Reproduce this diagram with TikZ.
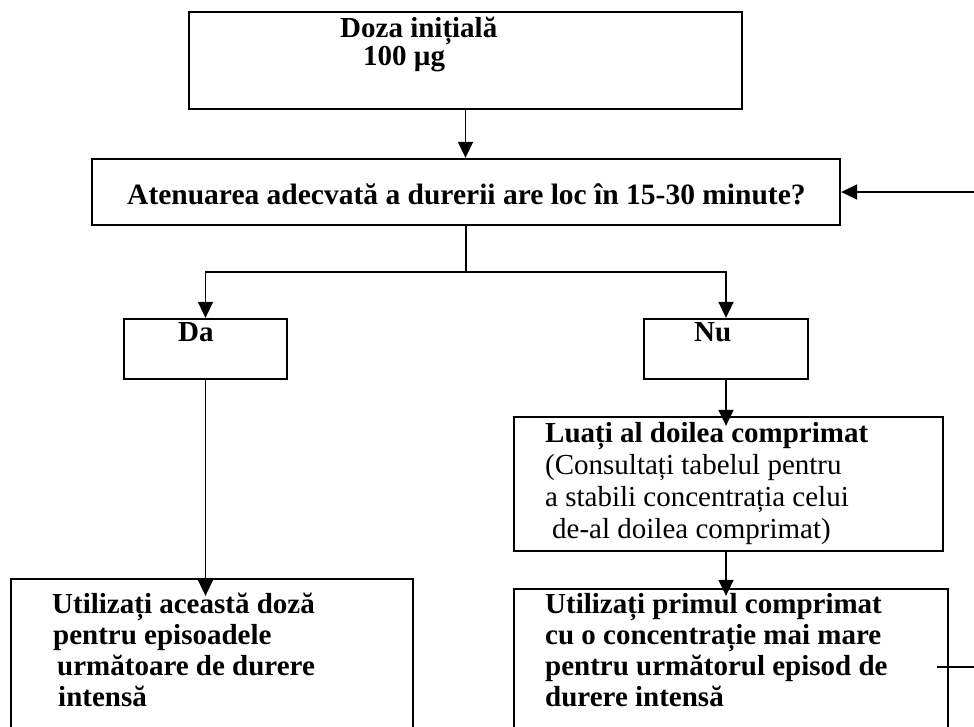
\documentclass[tikz,border=0pt]{standalone}
\usepackage{fontspec}
\setmainfont{Liberation Serif}
\usetikzlibrary{arrows.meta,calc,positioning}

\begin{document}
\begin{tikzpicture}[x=1pt,y=-1pt,>={Triangle[length=16pt,width=15pt]}]
  \tikzstyle{box}=[draw=black, line width=2.3pt, rectangle, inner sep=0pt]
  \tikzstyle{conn}=[draw=black, line width=1.6pt]
  \tikzstyle{txt}=[anchor=base west, inner sep=0pt, align=left, font=\fontsize{29}{31}\selectfont]
  \tikzstyle{btxt}=[txt, font=\fontsize{29}{31}\selectfont\bfseries]
  \useasboundingbox (0,0) rectangle (974,726);
  \clip (0,0) rectangle (974,726);

  % boxes
  \node[box, minimum width=553pt, minimum height=97pt]  (init)   at (465.5,60.5) {};
  \node[box, minimum width=748pt, minimum height=66pt]  (quest)  at (466,192) {};
  \node[box, minimum width=163pt, minimum height=60pt]  (da)     at (205.5,349) {};
  \node[box, minimum width=164pt, minimum height=60pt]  (nu)     at (726,349) {};
  \node[box, minimum width=429pt, minimum height=134pt] (second) at (728.5,484) {};
  \node[box, minimum width=402pt, minimum height=181pt] (useD)   at (212,669.5) {};
  \node[box, minimum width=434pt, minimum height=171pt] (useN)   at (731,674.5) {};

  % texts (base = last line)
  \node[btxt, font=\fontsize{29}{28}\selectfont\bfseries] (tinit) at (340,65)
    {Doza inițială\\\hspace*{23pt}100 µg};
  \node[btxt, font=\fontsize{29.5}{31}\selectfont\bfseries] (tquest) at (127,204)
    {Atenuarea adecvată a durerii are loc în 15-30 minute?};
  \node[btxt] (tda) at (178,341) {Da};
  \node[btxt] (tnu) at (694,341) {Nu};
  \node[txt, font=\fontsize{29}{32}\selectfont] (tsecond) at (545,538)
    {\textbf{Luați al doilea comprimat}\\(Consultați tabelul pentru\\a stabili concentrația celui\\\hspace*{7pt}de-al doilea comprimat)};
  \node[btxt] (tuseD) at (52,706)
    {Utilizați această doză\\\hspace*{1pt}pentru episoadele\\\hspace*{5pt}următoare de durere\\\hspace*{6pt}intensă};
  \node[btxt] (tuseN) at (545,706)
    {Utilizați primul comprimat\\cu o concentrație mai mare\\pentru următorul episod de\\durere intensă};

  % connectors
  \coordinate (split) at (466,272);
  \coordinate (fbin) at (937,667);
  \coordinate (fbout) at (995,667);
  \draw[conn,->] (init.south) -- (init.south |- quest.north);
  \draw[conn] (quest.south) -- (split);
  \draw[conn,->] (split) -| (da.north);
  \draw[conn,->] (split) -| (nu.north);
  \draw[conn,->,shorten >=-18pt] (da.south) -- (da.south |- useD.north);
  \draw[conn,->,shorten >=-10pt] (nu.south) -- (nu.south |- second.north);
  \draw[conn,->,shorten >=-8pt] (nu.south |- second.south) -- (nu.south |- useN.north);
  \draw[conn,->] (fbin) -- (fbout) |- (quest.east);
\end{tikzpicture}
\end{document}
